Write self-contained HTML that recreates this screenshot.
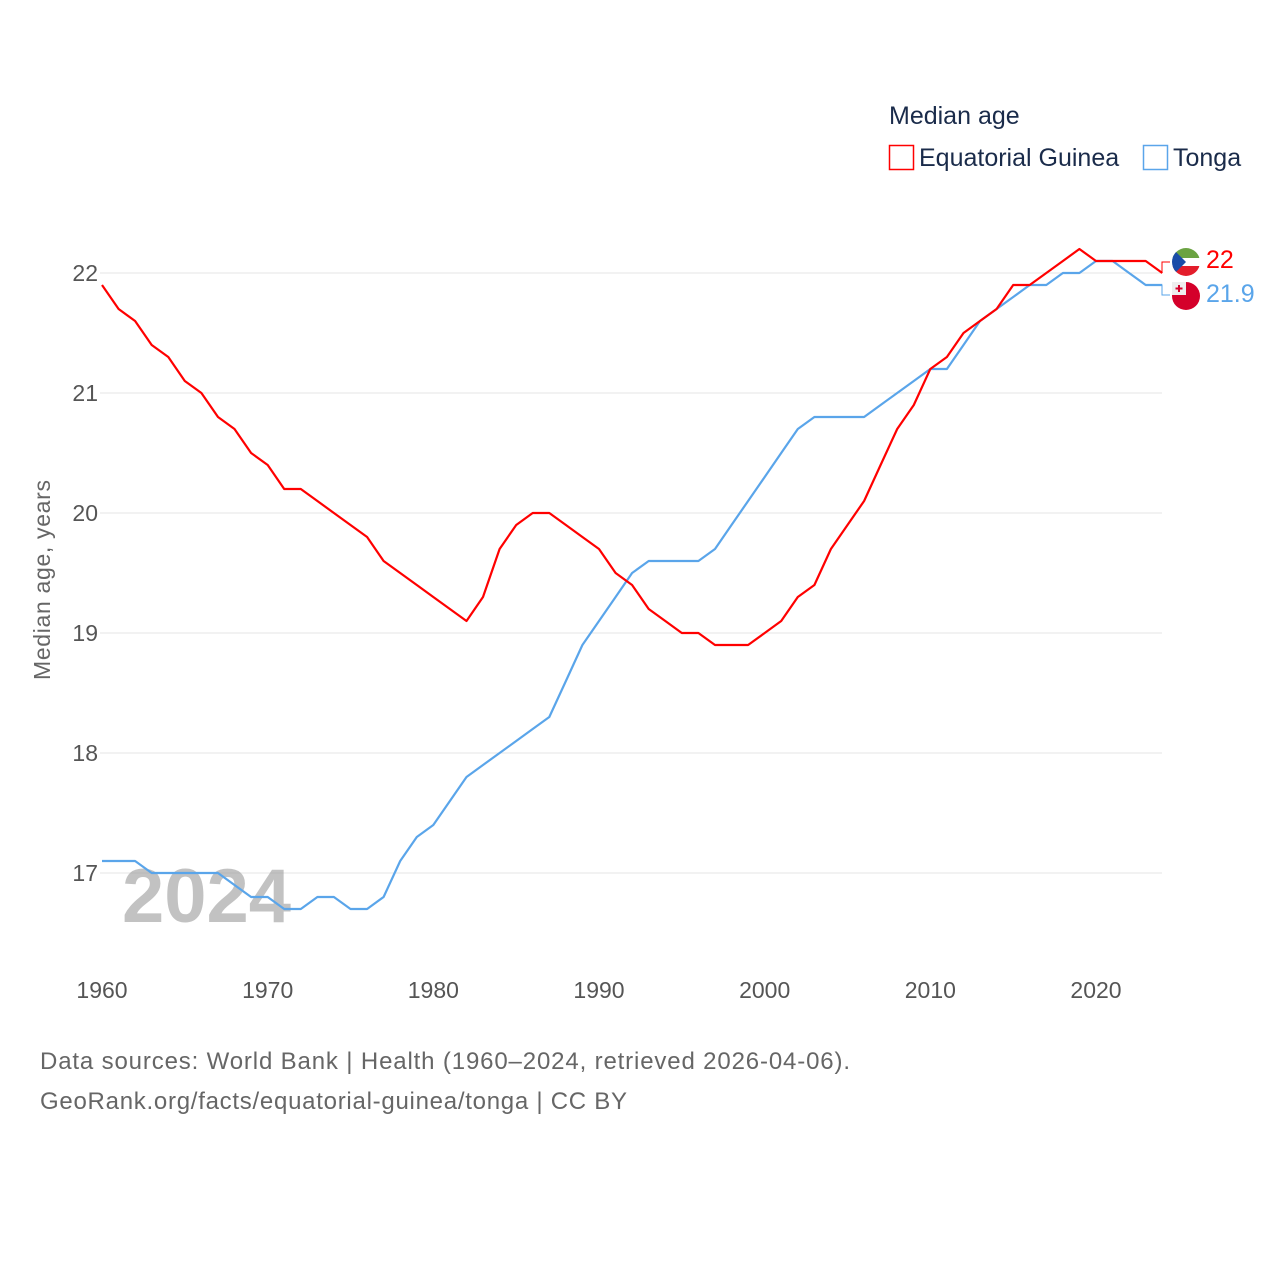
<!DOCTYPE html>
<html><head><meta charset="utf-8"><style>
body{margin:0;background:#fff;font-family:"Liberation Sans",sans-serif}
svg{display:block}
</style></head><body>
<svg id="chart" width="1280" height="1280" xmlns="http://www.w3.org/2000/svg" font-family="Liberation Sans, sans-serif">
<g id="grid"></g>
<g id="yticks"></g>
<g id="xticks"></g>
<text x="122" y="922" font-size="76" font-weight="bold" fill="#999" fill-opacity="0.6">2024</text>
<text transform="translate(50,580) rotate(-90)" text-anchor="middle" font-size="23" fill="#666" textLength="200">Median age, years</text>
<g id="lines"></g>
<g>
<text x="889" y="124" font-size="25" fill="#1a2b4a">Median age</text>
<rect x="889.5" y="145.5" width="24" height="24" fill="none" stroke="#f00" stroke-width="1.5"/>
<text x="919" y="166" font-size="25" fill="#1a2b4a">Equatorial Guinea</text>
<rect x="1143.5" y="145.5" width="24" height="24" fill="none" stroke="#5aa5ea" stroke-width="1.5"/>
<text x="1173" y="166" font-size="25" fill="#1a2b4a">Tonga</text>
</g>
<g>
<path d="M1162 273 V262 H1170" stroke="#f00" fill="none" stroke-width="1"/>
<path d="M1162 285 V295 H1170" stroke="#5aa5ea" fill="none" stroke-width="1"/>
<g>
<clipPath id="c1"><circle cx="1186" cy="262" r="14"/></clipPath>
<g clip-path="url(#c1)"><rect x="1172" y="248" width="28" height="10" fill="#6ba342"/><rect x="1172" y="258" width="28" height="8" fill="#fff"/><rect x="1172" y="266" width="28" height="10" fill="#e31d2b"/><path d="M1172 248 L1186 262 L1172 276Z" fill="#1a4ca8"/></g></g>
<g>
<circle cx="1186" cy="296" r="14" fill="#d4002a"/><rect x="1172" y="282" width="14" height="13" fill="#eee"/><path d="M1179 285v7M1175.5 288.5h7" stroke="#d4002a" stroke-width="2"/></g>
<text x="1206" y="268" font-size="25" fill="#f00">22</text>
<text x="1206" y="302" font-size="25" fill="#5aa5ea">21.9</text>
</g>
<text x="40" y="1069" font-size="24" fill="#666" textLength="810">Data sources: World Bank | Health (1960–2024, retrieved 2026-04-06).</text>
<text x="40" y="1109" font-size="24" fill="#666" textLength="587">GeoRank.org/facts/equatorial-guinea/tonga | CC BY</text>
</svg>
<script>
const years=[];for(let y=1960;y<=2024;y++)years.push(y);
const eqGuinea=[21.9,21.7,21.6,21.4,21.3,21.1,21.0,20.8,20.7,20.5,20.4,20.2,20.2,20.1,20.0,19.9,19.8,19.6,19.5,19.4,19.3,19.2,19.1,19.3,19.7,19.9,20.0,20.0,19.9,19.8,19.7,19.5,19.4,19.2,19.1,19.0,19.0,18.9,18.9,18.9,19.0,19.1,19.3,19.4,19.7,19.9,20.1,20.4,20.7,20.9,21.2,21.3,21.5,21.6,21.7,21.9,21.9,22.0,22.1,22.2,22.1,22.1,22.1,22.1,22.0];
const tonga=[17.1,17.1,17.1,17.0,17.0,17.0,17.0,17.0,16.9,16.8,16.8,16.7,16.7,16.8,16.8,16.7,16.7,16.8,17.1,17.3,17.4,17.6,17.8,17.9,18.0,18.1,18.2,18.3,18.6,18.9,19.1,19.3,19.5,19.6,19.6,19.6,19.6,19.7,19.9,20.1,20.3,20.5,20.7,20.8,20.8,20.8,20.8,20.9,21.0,21.1,21.2,21.2,21.4,21.6,21.7,21.8,21.9,21.9,22.0,22.0,22.1,22.1,22.0,21.9,21.9];
const yTicks=[17,18,19,20,21,22];
const xTicks=[1960,1970,1980,1990,2000,2010,2020];
const NS="http://www.w3.org/2000/svg";
const xs=y=>102+(y-1960)*(994/60);
const ys=v=>273+(22-v)*120;
const grid=document.getElementById('grid'),yt=document.getElementById('yticks'),xt=document.getElementById('xticks'),ln=document.getElementById('lines');
yTicks.forEach(v=>{
 const l=document.createElementNS(NS,'line');
 
 
 l.setAttribute('x1',100);l.setAttribute('x2',1162);l.setAttribute('y1',ys(v));l.setAttribute('y2',ys(v));
 l.setAttribute('stroke','#e6e6e6');l.setAttribute('stroke-width','1');grid.appendChild(l);
 const t=document.createElementNS(NS,'text');
 
 
 t.setAttribute('x',98);t.setAttribute('y',ys(v)+8);t.setAttribute('text-anchor','end');t.setAttribute('font-size','23');t.setAttribute('fill','#555');t.textContent=v;yt.appendChild(t);
});
xTicks.forEach(v=>{
 const t=document.createElementNS(NS,'text');
 
 
 t.setAttribute('x',xs(v));t.setAttribute('y',998);t.setAttribute('text-anchor','middle');t.setAttribute('font-size','23');t.setAttribute('fill','#555');t.textContent=v;xt.appendChild(t);
});
function line(data,color,name){
 const p=document.createElementNS(NS,'polyline');
 
 
 p.setAttribute('points',data.map((v,i)=>xs(years[i]).toFixed(1)+','+ys(v).toFixed(1)).join(' '));
 p.setAttribute('fill','none');p.setAttribute('stroke',color);p.setAttribute('stroke-width','2.2');p.setAttribute('stroke-linejoin','round');
 ln.appendChild(p);
}
line(tonga,'#5aa5ea','line-tonga');
line(eqGuinea,'#f00','line-equatorial-guinea');
</script>
</body></html>
